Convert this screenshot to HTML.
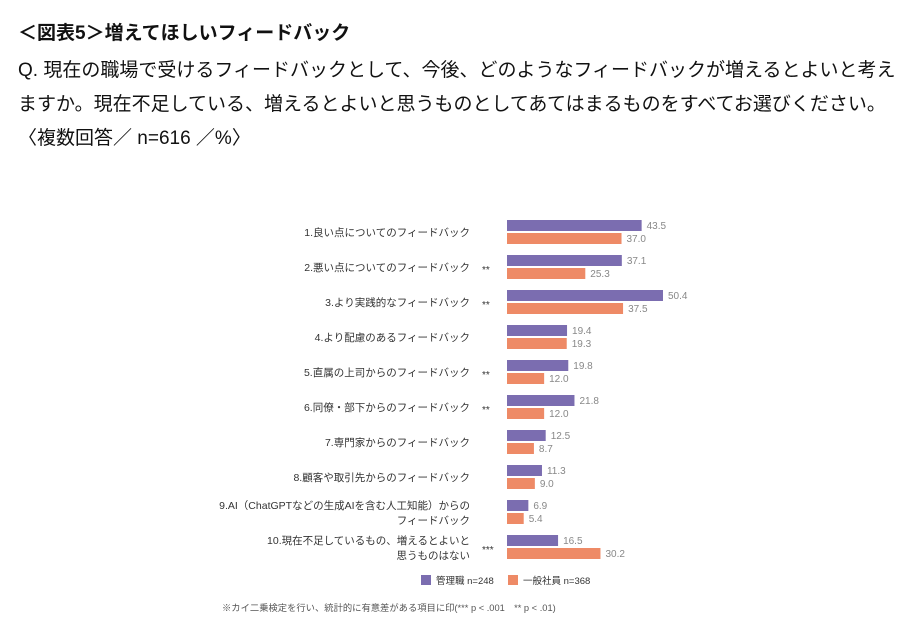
<!DOCTYPE html>
<html><head><meta charset="utf-8">
<style>
body{margin:0;width:918px;height:630px;background:#fff;overflow:hidden;font-family:"Liberation Sans","Noto Sans CJK JP",sans-serif;}
.h{position:absolute;left:18px;color:#111;white-space:nowrap;}
</style></head><body>
<div class="h" style="top:18px;font-size:19px;font-weight:bold;">＜図表5＞増えてほしいフィードバック</div>
<div class="h" style="top:55px;font-size:19px;">Q. 現在の職場で受けるフィードバックとして、今後、どのようなフィードバックが増えるとよいと考え</div>
<div class="h" style="top:89px;font-size:19px;">ますか。現在不足している、増えるとよいと思うものとしてあてはまるものをすべてお選びください。</div>
<div class="h" style="top:123px;font-size:19px;">〈複数回答／ n=616 ／%〉</div>
<svg id="chart" width="918" height="630" style="position:absolute;left:0;top:0"></svg>
<script>
const categories=["1.良い点についてのフィードバック","2.悪い点についてのフィードバック","3.より実践的なフィードバック","4.より配慮のあるフィードバック","5.直属の上司からのフィードバック","6.同僚・部下からのフィードバック","7.専門家からのフィードバック","8.顧客や取引先からのフィードバック","9.AI（ChatGPTなどの生成AIを含む人工知能）からの|フィードバック","10.現在不足しているもの、増えるとよいと|思うものはない"];
const managers=[43.5,37.1,50.4,19.4,19.8,21.8,12.5,11.3,6.9,16.5];
const staff=[37.0,25.3,37.5,19.3,12.0,12.0,8.7,9.0,5.4,30.2];
const marks=["","**","**","","**","**","","","","***"];
const svg=document.getElementById('chart');
const NS="http://www.w3.org/2000/svg";
const x0=507,k=3.095,y0=220,step=35,bh=11;
const xs=v=>x0+v*k, ys=i=>y0+i*step;
function mk(t,a){const e=document.createElementNS(NS,t);for(const n in a)e.setAttribute(n,a[n]);svg.appendChild(e);return e;}
categories.forEach((c,i)=>{
 const y=ys(i);
 const b1=mk('rect',{x:x0,y:y,width:xs(managers[i])-x0,height:bh,fill:'#7b6db0'});
 
 
 const b2=mk('rect',{x:x0,y:y+bh+2,width:xs(staff[i])-x0,height:bh,fill:'#ee8a66'});
 
 
 const t1=mk('text',{x:xs(managers[i])+5,y:y+9,'font-size':10,fill:'#888'});t1.textContent=managers[i].toFixed(1);
 
 
 const t2=mk('text',{x:xs(staff[i])+5,y:y+bh+11,'font-size':10,fill:'#888'});t2.textContent=staff[i].toFixed(1);
 
 
 const parts=c.split('|');
 parts.forEach((p,j)=>{
  const ty=parts.length==1?y+16:y+9+j*15;
  const t=mk('text',{x:470,y:ty,'font-size':10.5,fill:'#333','text-anchor':'end'});t.textContent=p;
  
  
 });
 if(marks[i]){const m=mk('text',{x:482,y:y+18,'font-size':10,fill:'#333'});m.textContent=marks[i];
  
  }
});
const l1=mk('rect',{x:421,y:575,width:10,height:10,fill:'#7b6db0'});


const lt1=mk('text',{x:436,y:584,'font-size':9.5,fill:'#333'});lt1.textContent='管理職 n=248';


const l2=mk('rect',{x:508,y:575,width:10,height:10,fill:'#ee8a66'});


const lt2=mk('text',{x:523,y:584,'font-size':9.5,fill:'#333'});lt2.textContent='一般社員 n=368';


const fn=mk('text',{x:222,y:611,'font-size':9.3,fill:'#555'});fn.textContent='※カイ二乗検定を行い、統計的に有意差がある項目に印(*** p < .001　** p < .01)';


</script>
</body></html>
